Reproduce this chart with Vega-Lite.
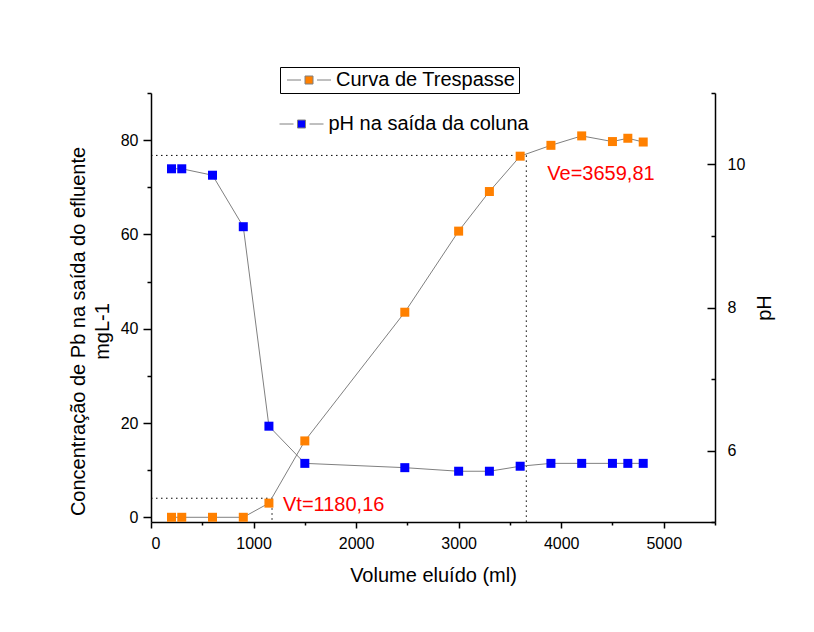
{
  "$schema": "https://vega.github.io/schema/vega-lite/v6.json",
  "width": 564,
  "height": 429,
  "autosize": {"type": "none"},
  "padding": {"left": 151, "top": 93, "right": 99, "bottom": 110},
  "background": "white",
  "config": {
    "view": {"stroke": null},
    "font": "Liberation Sans",
    "axis": {
      "grid": false,
      "domainColor": "black",
      "tickColor": "black",
      "labelColor": "black",
      "titleColor": "black",
      "labelFont": "Liberation Sans",
      "titleFont": "Liberation Sans",
      "labelFontSize": 16,
      "titleFontSize": 20,
      "titleFontWeight": "normal",
      "domainWidth": 1.5,
      "tickWidth": 1.5
    },
    "legend": {"labelFont": "Liberation Sans", "labelFontSize": 20, "labelColor": "black", "labelLimit": 0}
  },
  "datasets": {
    "trespasse": [
      {"vol": 200, "c": 0, "serie": "Curva de Trespasse"},
      {"vol": 300, "c": 0, "serie": "Curva de Trespasse"},
      {"vol": 600, "c": 0, "serie": "Curva de Trespasse"},
      {"vol": 900, "c": 0, "serie": "Curva de Trespasse"},
      {"vol": 1150, "c": 3.0, "serie": "Curva de Trespasse"},
      {"vol": 1500, "c": 16.2, "serie": "Curva de Trespasse"},
      {"vol": 2475, "c": 43.5, "serie": "Curva de Trespasse"},
      {"vol": 3000, "c": 60.7, "serie": "Curva de Trespasse"},
      {"vol": 3300, "c": 69.1, "serie": "Curva de Trespasse"},
      {"vol": 3600, "c": 76.6, "serie": "Curva de Trespasse"},
      {"vol": 3900, "c": 78.9, "serie": "Curva de Trespasse"},
      {"vol": 4200, "c": 80.9, "serie": "Curva de Trespasse"},
      {"vol": 4500, "c": 79.7, "serie": "Curva de Trespasse"},
      {"vol": 4650, "c": 80.4, "serie": "Curva de Trespasse"},
      {"vol": 4800, "c": 79.6, "serie": "Curva de Trespasse"}
    ],
    "ph": [
      {"vol": 200, "ph": 9.94, "serie": "pH na saída da coluna"},
      {"vol": 300, "ph": 9.94, "serie": "pH na saída da coluna"},
      {"vol": 600, "ph": 9.85, "serie": "pH na saída da coluna"},
      {"vol": 900, "ph": 9.13, "serie": "pH na saída da coluna"},
      {"vol": 1150, "ph": 6.34, "serie": "pH na saída da coluna"},
      {"vol": 1500, "ph": 5.82, "serie": "pH na saída da coluna"},
      {"vol": 2475, "ph": 5.76, "serie": "pH na saída da coluna"},
      {"vol": 3000, "ph": 5.71, "serie": "pH na saída da coluna"},
      {"vol": 3300, "ph": 5.71, "serie": "pH na saída da coluna"},
      {"vol": 3600, "ph": 5.78, "serie": "pH na saída da coluna"},
      {"vol": 3900, "ph": 5.82, "serie": "pH na saída da coluna"},
      {"vol": 4200, "ph": 5.82, "serie": "pH na saída da coluna"},
      {"vol": 4500, "ph": 5.82, "serie": "pH na saída da coluna"},
      {"vol": 4650, "ph": 5.82, "serie": "pH na saída da coluna"},
      {"vol": 4800, "ph": 5.82, "serie": "pH na saída da coluna"}
    ],
    "marcas": [
      {"label": "Vt=1180,16", "vol": 1180.16, "c": 4.04},
      {"label": "Ve=3659,81", "vol": 3659.81, "c": 76.76}
    ]
  },
  "encoding": {
    "x": {
      "field": "vol",
      "type": "quantitative",
      "title": "Volume eluído (ml)",
      "scale": {"domain": [0, 5500], "nice": false, "zero": false},
      "axis": {
        "values": [0, 500, 1000, 1500, 2000, 2500, 3000, 3500, 4000, 4500, 5000, 5500],
        "labelExpr": "datum.value % 1000 == 0 ? datum.label : ''",
        "format": "d",
        "tickSize": {"condition": {"test": "datum.value % 1000 != 0", "value": 3}, "value": 6},
        "labelPadding": 7,
        "titlePadding": 14
      }
    }
  },
  "layer": [
    {
      "encoding": {
        "y": {
          "field": "c",
          "type": "quantitative",
          "title": ["Concentração de Pb na saída do efluente", "mgL-1"],
          "scale": {"domain": [-1, 90], "nice": false, "zero": false},
          "axis": {
            "orient": "left",
            "values": [0, 10, 20, 30, 40, 50, 60, 70, 80, 90],
            "labelExpr": "datum.value % 20 == 0 ? datum.label : ''",
            "tickSize": {"condition": {"test": "datum.value % 20 != 0", "value": 4}, "value": 8},
            "labelPadding": 5,
            "titlePadding": 8,
            "titleLineHeight": 24,
            "titleY": 238
          }
        }
      },
      "layer": [
        {
          "data": {"name": "marcas"},
          "mark": {"type": "rule", "color": "black", "strokeWidth": 1, "strokeDash": [1.5, 3.5]},
          "encoding": {
            "x": {"datum": 0, "type": "quantitative"},
            "x2": {"field": "vol"}
          }
        },
        {
          "data": {"name": "marcas"},
          "mark": {"type": "rule", "color": "black", "strokeWidth": 1, "strokeDash": [1.5, 3.5]},
          "encoding": {
            "y2": {"datum": -1}
          }
        },
        {
          "data": {"name": "trespasse"},
          "mark": {"type": "line", "color": "#808080", "strokeWidth": 1},
          "encoding": {}
        },
        {
          "data": {"name": "trespasse"},
          "mark": {"type": "square", "filled": true, "size": 81, "opacity": 1},
          "encoding": {
            "color": {
              "field": "serie",
              "type": "nominal",
              "scale": {"range": ["#FF8000"]},
              "legend": {
                "orient": "none",
                "legendX": 129,
                "legendY": -26,
                "title": null,
                "symbolType": "M-4.4,0H-1.6M1.6,0H4.4M-0.8,-0.8H0.8V0.8H-0.8Z",
                "symbolSize": 100,
                "symbolStrokeWidth": 1,
                "symbolStrokeColor": "#808080",
                "symbolOffset": 16,
                "labelOffset": 17,
                "padding": 3,
                "strokeColor": "black",
                "labelFontSize": 20,
                "labelExpr": "datum.label + '\u00a0\u00a0'",
                "encode": {"symbols": {"enter": {"stroke": {"value": "#808080"}, "strokeWidth": {"value": 1}}, "update": {"stroke": {"value": "#808080"}, "strokeWidth": {"value": 1}}}}
              }
            }
          }
        },
        {
          "data": {"name": "marcas"},
          "transform": [{"filter": "datum.vol < 2000"}],
          "mark": {"type": "text", "align": "left", "baseline": "alphabetic", "dx": 11, "dy": 12.5, "fontSize": 20, "font": "Liberation Sans", "color": "#FF0000"},
          "encoding": {"text": {"field": "label"}}
        },
        {
          "data": {"name": "marcas"},
          "transform": [{"filter": "datum.vol > 2000"}],
          "mark": {"type": "text", "align": "left", "baseline": "alphabetic", "dx": 21, "dy": 24.5, "fontSize": 20, "font": "Liberation Sans", "color": "#FF0000"},
          "encoding": {"text": {"field": "label"}}
        }
      ]
    },
    {
      "data": {"name": "ph"},
      "encoding": {
        "y": {
          "field": "ph",
          "type": "quantitative",
          "title": "pH",
          "scale": {"domain": [5, 11], "nice": false, "zero": false},
          "axis": {
            "orient": "right",
            "values": [5, 6, 7, 8, 9, 10, 11],
            "labelExpr": "datum.value % 2 == 0 ? datum.label : ''",
            "tickSize": {"condition": {"test": "datum.value % 2 != 0", "value": -4}, "value": -8},
            "labelPadding": 20,
            "titleAngle": 270,
            "titlePadding": 30
          }
        }
      },
      "layer": [
        {
          "mark": {"type": "line", "color": "#808080", "strokeWidth": 1},
          "encoding": {}
        },
        {
          "mark": {"type": "square", "filled": true, "size": 81, "opacity": 1},
          "encoding": {
            "color": {
              "field": "serie",
              "type": "nominal",
              "scale": {"range": ["#0000FF"]},
              "legend": {
                "orient": "none",
                "legendX": 124.5,
                "legendY": 21,
                "title": null,
                "symbolType": "M-4.4,0H-1.6M1.6,0H4.4M-0.8,-0.8H0.8V0.8H-0.8Z",
                "symbolSize": 100,
                "symbolStrokeWidth": 1,
                "symbolStrokeColor": "#808080",
                "symbolOffset": 16,
                "labelOffset": 17,
                "padding": 0,
                "labelFontSize": 20,
                "encode": {"symbols": {"enter": {"stroke": {"value": "#808080"}, "strokeWidth": {"value": 1}}, "update": {"stroke": {"value": "#808080"}, "strokeWidth": {"value": 1}}}}
              }
            }
          }
        }
      ]
    }
  ],
  "resolve": {"scale": {"y": "independent", "color": "independent"}, "legend": {"color": "independent"}}
}
